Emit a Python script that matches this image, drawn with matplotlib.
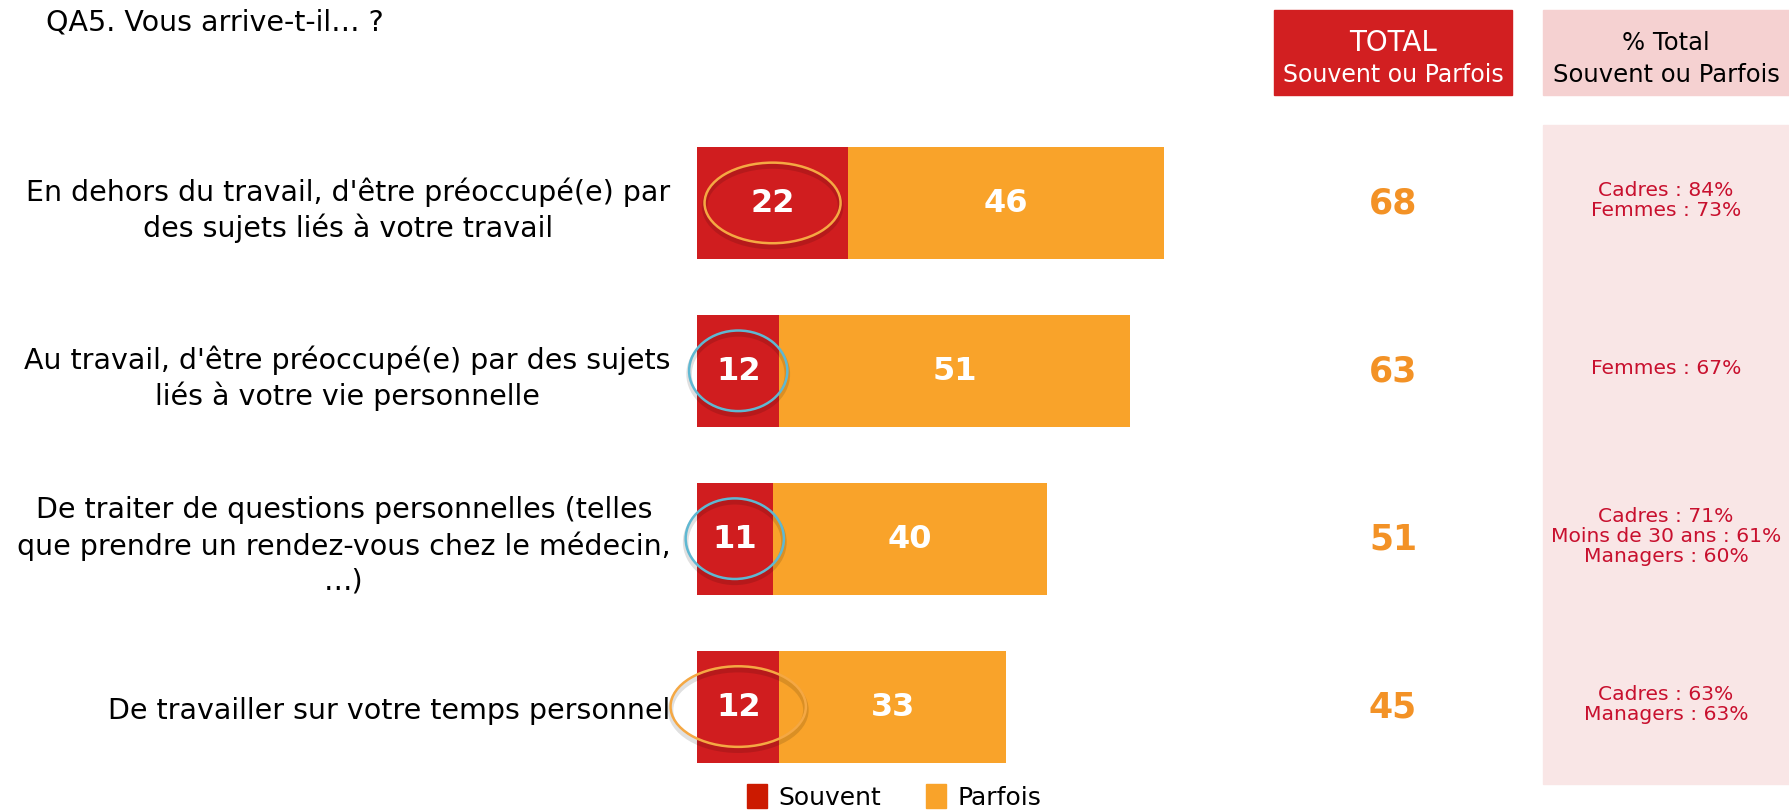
import matplotlib
matplotlib.use("Agg")
from matplotlib import pyplot as plt
from matplotlib.patches import Rectangle, Ellipse, Patch
from matplotlib.transforms import blended_transform_factory

# data
labels = [
    "En dehors du travail, d'être préoccupé(e) par\ndes sujets liés à votre travail",
    "Au travail, d'être préoccupé(e) par des sujets\nliés à votre vie personnelle",
    "De traiter de questions personnelles (telles\nque prendre un rendez-vous chez le médecin,\n…)",
    "De travailler sur votre temps personnel",
]
souvent = [22, 12, 11, 12]
parfois = [46, 51, 40, 33]
totals = [68, 63, 51, 45]
details = [
    "Cadres : 84%\nFemmes : 73%",
    "Femmes : 67%",
    "Cadres : 71%\nMoins de 30 ans : 61%\nManagers : 60%",
    "Cadres : 63%\nManagers : 63%",
]
series_names = ["Souvent", "Parfois"]

RED = "#D01D1F"
ORANGE = "#F9A32A"
TOT_ORANGE = "#F39226"
DET_RED = "#C8102E"
ring_colors = ["#F5A843", "#5FB8D2", "#5FB8D2", "#F5A843"]
ring_widths = [19.8, 14.3, 14.3, 19.7]

W, H = 1789, 812
fig = plt.figure(figsize=(W / 100, H / 100), dpi=100)
plt.rcParams["font.family"] = ["DejaVu Sans"]

# background panels (behind everything)
fig.patches.append(Rectangle((1274 / W, 1 - 96 / H), 238 / W, 85 / H,
                             transform=fig.transFigure, color="#D21F21", zorder=-2))
fig.patches.append(Rectangle((1543 / W, 1 - 96 / H), 246 / W, 85 / H,
                             transform=fig.transFigure, color="#F5D1D1", zorder=-2))
fig.patches.append(Rectangle((1543 / W, 1 - 785 / H), 246 / W, 659 / H,
                             transform=fig.transFigure, color="#F9E6E6", zorder=-2))

ax = fig.add_axes([697 / W, (H - 791.5) / H, 80 * 6.87 / W, 671.5 / H])
ax.patch.set_alpha(0)
ypos = list(range(len(labels)))
ax.barh(ypos, souvent, height=0.667, color=RED)
ax.barh(ypos, parfois, left=souvent, height=0.667, color=ORANGE)
ax.set_xlim(0, 80)
ax.set_ylim(3.5, -0.5)
ax.set_yticks(ypos)
ax.set_yticklabels(labels, fontsize=20.5, linespacing=1.3)
for lab in ax.get_yticklabels():
    lab.set_multialignment("center")
ax.tick_params(axis="y", length=0, pad=19)
ax.set_xticks([])
for s in ax.spines.values():
    s.set_visible(False)

for i in ypos:
    # shadow + ring around the "souvent" value
    sh = Ellipse((souvent[i] / 2, i + 0.02), ring_widths[i], 0.48, fill=False,
                 edgecolor="black", alpha=0.12, lw=4, clip_on=False)
    ax.add_patch(sh)
    ring = Ellipse((souvent[i] / 2, i), ring_widths[i], 0.48, fill=False,
                   edgecolor=ring_colors[i], lw=1.8, clip_on=False)
    ax.add_patch(ring)
    ax.text(souvent[i] / 2, i, str(souvent[i]), color="white", fontsize=23,
            fontweight="bold", ha="center", va="center")
    ax.text(souvent[i] + parfois[i] / 2, i, str(parfois[i]), color="white",
            fontsize=23, fontweight="bold", ha="center", va="center")

# right-hand panels
tr = blended_transform_factory(fig.transFigure, ax.transData)
fig.text(1393 / W, 1 - 43 / H, "TOTAL", color="white", fontsize=20,
         ha="center", va="center")
fig.text(1393 / W, 1 - 75 / H, "Souvent ou Parfois", color="white", fontsize=17,
         ha="center", va="center")
fig.text(1666 / W, 1 - 43 / H, "% Total", color="black", fontsize=17.5,
         ha="center", va="center")
fig.text(1666 / W, 1 - 75 / H, "Souvent ou Parfois", color="black", fontsize=17.5,
         ha="center", va="center")

for i in ypos:
    ax.text(1393 / W, i, str(totals[i]), transform=tr, color=TOT_ORANGE,
            fontsize=25, fontweight="bold", ha="center", va="center")
    ax.text(1666 / W, i - 0.02, details[i], transform=tr, color=DET_RED,
            fontsize=14.6, ha="center", va="center", linespacing=1.05)

fig.text(46 / W, 1 - 23 / H, "QA5. Vous arrive-t-il… ?", fontsize=20.5,
         ha="left", va="center")

handles = [Patch(color="#CC1A00"), Patch(color=ORANGE)]
fig.legend(handles, series_names, loc="upper left",
           bbox_to_anchor=(747 / W, 1 - 785 / H), ncol=2, frameon=False,
           fontsize=18, handlelength=0.8, handleheight=1.1, handletextpad=0.45,
           columnspacing=1.8, borderpad=0, borderaxespad=0)

fig.savefig("out.png", dpi=100)
